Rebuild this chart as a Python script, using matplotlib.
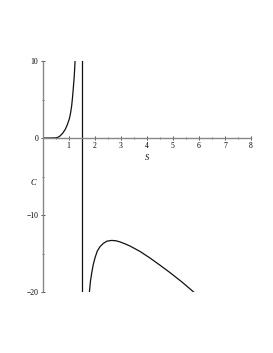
import numpy as np
import matplotlib.pyplot as plt

# left branch
s_left = [0.0, 0.3, 0.5, 0.6, 0.67, 0.77, 0.87, 0.95, 1.03, 1.08, 1.12, 1.15, 1.18, 1.22, 1.25]
c_left = [0.0, 0.0, 0.02, 0.1, 0.26, 0.6, 1.1, 1.7, 2.5, 3.3, 4.2, 5.2, 6.4, 8.1, 10.0]

# right branch
s_right = [1.8, 1.84, 1.89, 1.95, 2.02, 2.1, 2.21, 2.33, 2.47, 2.66, 2.82, 2.98, 3.17,
           3.37, 3.75, 4.13, 4.5, 4.9, 5.35, 5.8]
c_right = [-20.0, -18.6, -17.5, -16.4, -15.5, -14.7, -14.1, -13.7, -13.4, -13.3, -13.35,
           -13.5, -13.75, -14.05, -14.75, -15.6, -16.5, -17.5, -18.7, -20.0]

asymptote = 1.5
xticks = [1, 2, 3, 4, 5, 6, 7, 8]
yticks = [-20, -10, 0, 10]

plt.rcParams['font.family'] = ['Liberation Serif', 'DejaVu Serif']

fig = plt.figure(figsize=(2.73, 3.53), dpi=100)
ax = fig.add_axes([42.5 / 273, 1 - 292 / 353, (251 - 42.5) / 273, (292 - 61) / 353])

ax.plot(s_left, c_left, color='#111111', lw=0.9)
ax.plot(s_right, c_right, color='#111111', lw=0.9)
ax.axvline(asymptote, color='#111111', lw=0.9)

ax.set_xlim(0, 8)
ax.set_ylim(-20, 10)

for side in ['top', 'right']:
    ax.spines[side].set_visible(False)
ax.spines['left'].set_position(('data', 0))
ax.spines['bottom'].set_position(('data', 0))
for side in ['left', 'bottom']:
    ax.spines[side].set_color('#888888')
    ax.spines[side].set_linewidth(1.0)

ax.set_xticks(xticks)
ax.set_xticks(np.arange(0.5, 8, 1.0), minor=True)
ax.set_yticks(yticks)
ax.set_yticks([-15, -5, 5], minor=True)
ax.tick_params(axis='both', which='major', direction='inout', length=3, width=0.6,
               color='#333333', labelsize=5.5, pad=1.5)
ax.tick_params(axis='both', which='minor', direction='inout', length=2, width=0.5,
               color='#333333')

ax.text(4, -2.6, 'S', style='italic', fontsize=6, ha='center', va='center')
ax.text(-0.37, -5.8, 'C', style='italic', fontsize=6, ha='center', va='center')

fig.savefig('out.png', dpi=100)
